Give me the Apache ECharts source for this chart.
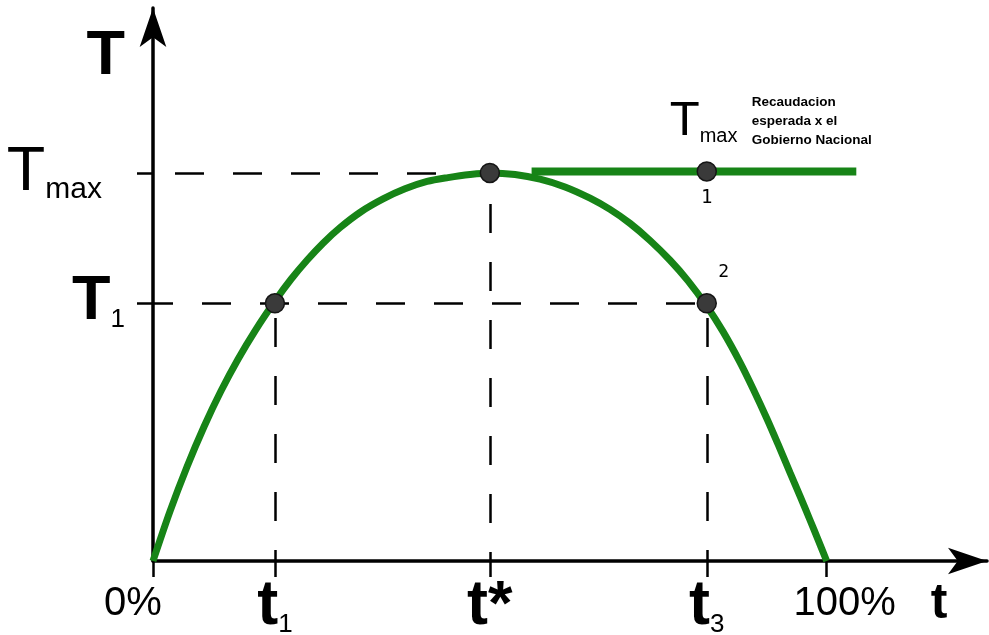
<!DOCTYPE html>
<html>
<head lang="es">
    <meta charset="UTF-8">
    <title>Curva de Laffer</title>
    <style>
        html, body { margin: 0; padding: 0; background: #fff; }
    </style>
</head>
<body>
<div id="chart" style="width: 989px;height: 635px;"></div>
<script src="https://cdn.jsdelivr.net/npm/echarts@6/dist/echarts.min.js"></script>
<script>
// tasa impositiva (t, en %) y recaudacion (T, Tmax = 100)
var curveX = [0, 2.52, 5.05, 7.57, 10.09, 12.62, 15.29, 18.11, 20.49, 22.86, 25.24, 27.76, 30.88, 34.15, 37.41, 40.68, 43.79, 47.06, 50,
              53.74, 57.45, 61.16, 64.88, 67.84, 70.81, 73.78, 76.75, 79.42, 82.24, 84.62, 87.14, 89.07, 91.15, 92.78, 94.56, 96.05, 97.54, 98.72, 100];
var curveY = [0, 12.8, 24.3, 34.6, 43.8, 52, 59.7, 67, 72.6, 77.5, 81.9, 85.9, 90, 93.3, 95.9, 97.8, 98.8, 99.6, 100,
              99.6, 98.4, 96.4, 93.5, 90.6, 87, 82.6, 77.5, 72.2, 65.6, 59.1, 51.2, 44.4, 36.6, 30.1, 22.8, 16.7, 10.5, 5.5, 0];

var t1 = 18.1, tStar = 50, t3 = 82.2;
var T1 = 66.4, Tmax = 100;

// recaudacion esperada por el gobierno (linea horizontal)
var expectedX = [56.2, 104.4];
var expectedY = [100.4, 100.4];

// puntos marcados
var dotX = [t1, tStar, t3, t3];
var dotY = [T1, Tmax, 100.4, T1];
var dotLabels = ['', '', '1', '2'];

var xTickValues = [0, t1, tStar, t3, 100];
var xTickLabels = ['{pl|0%}', '{t|t}{s|1}', '{t|t*}', '{t|t}{s|3}', '{pr|100%}'];
var yTickValues = [T1, Tmax];
var yTickLabels = ['{T1|T}{s1|1}', '{Tm|T}{sm|max}'];

var green = '#178417';
var FONT = 'Liberation Sans';

function zip(a, b) {
    return a.map(function (v, i) { return [v, b[i]]; });
}
function pick(values, labels, v) {
    for (var i = 0; i < values.length; i++) {
        if (Math.abs(values[i] - v) < 1e-6) return labels[i];
    }
    return '';
}

var myChart = echarts.init(document.getElementById('chart'));

// linea discontinua entre dos puntos
var dashed = function (from, to, offset) {
    return [
        {coord: from, lineStyle: {type: [29, 29], dashOffset: offset}},
        {coord: to}
    ];
};

var option = {
    animation: false,
    backgroundColor: '#fff',
    grid: {left: 153, right: 2, top: 8, bottom: 74, containLabel: false, outerBoundsMode: 'none'},
    xAxis: {
        type: 'value',
        min: 0,
        max: 123.8,
        name: 't',
        nameLocation: 'end',
        nameGap: -48,
        nameMoveOverlap: false,
        nameTextStyle: {
            fontFamily: FONT, fontSize: 50, fontWeight: 'bold', color: '#000',
            align: 'center', verticalAlign: 'top', padding: [18, 0, 0, 0]
        },
        splitLine: {show: false},
        axisLine: {
            onZero: false,
            symbol: ['none', 'arrow'],
            symbolSize: [20, 39],
            lineStyle: {color: '#000', width: 3.5}
        },
        axisTick: {
            show: true, inside: false, length: 16,
            customValues: [0, t1, tStar, t3, 100],
            lineStyle: {color: '#000', width: 2.5}
        },
        axisLabel: {
            show: true,
            customValues: xTickValues,
            margin: 14,
            verticalAlign: 'top',
            formatter: function (v) { return pick(xTickValues, xTickLabels, v); },
            rich: {
                t: {fontFamily: FONT, fontSize: 63, fontWeight: 'bold', lineHeight: 63, verticalAlign: 'bottom', color: '#000'},
                s: {fontFamily: FONT, fontSize: 26, lineHeight: 28, verticalAlign: 'bottom', color: '#000'},
                pl: {fontFamily: FONT, fontSize: 40, lineHeight: 57, color: '#000', padding: [0, 40, 0, 0]},
                pr: {fontFamily: FONT, fontSize: 40, lineHeight: 57, color: '#000', padding: [0, 0, 0, 36]}
            }
        }
    },
    yAxis: {
        type: 'value',
        min: 0,
        max: 142.5,
        name: 'T',
        nameLocation: 'end',
        nameGap: -17,
        nameMoveOverlap: false,
        nameTextStyle: {
            fontFamily: FONT, fontSize: 63, fontWeight: 'bold', color: '#000',
            align: 'right', verticalAlign: 'top', padding: [0, 28, 0, 0]
        },
        splitLine: {show: false},
        axisLine: {
            onZero: false,
            symbol: ['none', 'arrow'],
            symbolSize: [20, 39],
            lineStyle: {color: '#000', width: 3.5}
        },
        axisTick: {
            show: true, inside: false, length: 16,
            customValues: yTickValues,
            lineStyle: {color: '#000', width: 2.5}
        },
        axisLabel: {
            show: true,
            customValues: yTickValues,
            margin: 28,
            formatter: function (v) { return pick(yTickValues, yTickLabels, v); },
            rich: {
                Tm: {fontFamily: FONT, fontSize: 63, lineHeight: 63, verticalAlign: 'bottom', color: '#000', padding: [4, 0, 0, 0]},
                sm: {fontFamily: FONT, fontSize: 30, lineHeight: 34, verticalAlign: 'bottom', color: '#000', padding: [4, 23, 0, 0]},
                T1: {fontFamily: FONT, fontSize: 63, fontWeight: 'bold', lineHeight: 63, verticalAlign: 'bottom', color: '#000', padding: [0, 0, 2, 0]},
                s1: {fontFamily: FONT, fontSize: 26, lineHeight: 24, verticalAlign: 'bottom', color: '#000', padding: [0, 0, 2, 0]}
            }
        }
    },
    series: [
        {
            name: 'curva',
            type: 'line',
            data: zip(curveX, curveY),
            smooth: 0.3,
            showSymbol: false,
            symbol: 'none',
            lineStyle: {color: green, width: 7},
            z: 3,
            markLine: {
                silent: true,
                symbol: ['none', 'none'],
                label: {show: false},
                lineStyle: {color: '#000', width: 2.5},
                z: 1,
                data: [
                    dashed([0, Tmax], [tStar, Tmax], 36),
                    dashed([0, T1], [t3, T1], 9),
                    dashed([t1, 0], [t1, T1], 18),
                    dashed([tStar, 0], [tStar, Tmax], 20),
                    dashed([t3, 0], [t3, T1], 18)
                ]
            }
        },
        {
            name: 'esperada',
            type: 'line',
            data: zip(expectedX, expectedY),
            showSymbol: false,
            symbol: 'none',
            lineStyle: {color: green, width: 8},
            z: 3,
            markPoint: {
                silent: true,
                symbol: 'circle',
                symbolSize: 1,
                itemStyle: {color: 'rgba(0,0,0,0)'},
                data: [
                    {
                        coord: [t3, 100.4],
                        label: {
                            show: true, position: 'inside', align: 'left', verticalAlign: 'bottom',
                            offset: [-37, -25],
                            formatter: '{T|T}{m|max}',
                            rich: {
                                T: {fontFamily: FONT, fontSize: 49, lineHeight: 49, verticalAlign: 'bottom', color: '#000'},
                                m: {fontFamily: FONT, fontSize: 20, lineHeight: 25, verticalAlign: 'bottom', color: '#000'}
                            }
                        }
                    },
                    {
                        coord: [t3, 100.4],
                        label: {
                            show: true, position: 'inside', align: 'left', verticalAlign: 'top',
                            offset: [45, -79],
                            formatter: 'Recaudacion\nesperada x el\nGobierno Nacional',
                            fontFamily: FONT, fontSize: 13.5, fontWeight: 'bold', lineHeight: 19, color: '#000'
                        }
                    }
                ]
            }
        },
        {
            name: 'puntos',
            type: 'scatter',
            data: zip(dotX, dotY).map(function (p, i) {
                var item = {value: p};
                if (dotLabels[i] === '1') {
                    item.label = {show: true, position: 'bottom', distance: 7, fontSize: 19, formatter: dotLabels[i]};
                } else if (dotLabels[i] === '2') {
                    item.label = {show: true, position: 'inside', offset: [17, -31], formatter: dotLabels[i]};
                }
                return item;
            }),
            symbolSize: 19,
            itemStyle: {color: '#3a3a3a', borderColor: '#151515', borderWidth: 1.5, opacity: 1},
            label: {show: false, fontFamily: 'DejaVu Sans Mono', fontSize: 18, color: '#000'},
            z: 5
        }
    ]
};

myChart.setOption(option);
</script>
</body>
</html>
